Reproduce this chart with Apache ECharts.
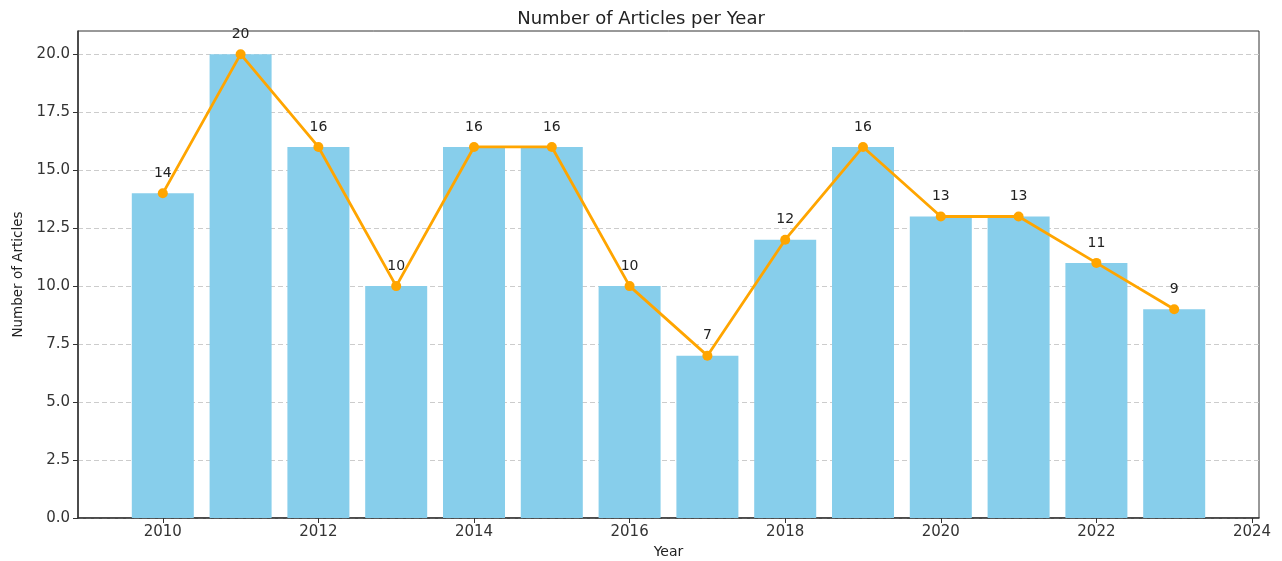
<!DOCTYPE html>
<html>
<head>
<meta charset="utf-8">
<script src="https://cdn.jsdelivr.net/npm/echarts@6/dist/echarts.min.js"></script>
<style>
  html, body { margin: 0; padding: 0; background: #fff; }
  #chart { width: 1282px; height: 561px; }
</style>
</head>
<body>
<div id="chart"></div>
<script>
// data
const years = [2010, 2011, 2012, 2013, 2014, 2015, 2016, 2017, 2018, 2019, 2020, 2021, 2022, 2023];
const articles = [14, 20, 16, 10, 16, 16, 10, 7, 12, 16, 13, 13, 11, 9];
const xTicks = [2010, 2012, 2014, 2016, 2018, 2020, 2022, 2024];
const yTicks = [0, 2.5, 5, 7.5, 10, 12.5, 15, 17.5, 20];

const font = "DejaVu Sans";
const points = years.map((y, i) => [y, articles[i]]);

const chart = echarts.init(document.getElementById("chart"));
chart.setOption({
  animation: false,
  title: {
    text: "Number of Articles per Year",
    left: "center",
    top: 5,
    textStyle: { fontFamily: font, fontSize: 18, fontWeight: "normal", color: "#222" },
  },
  grid: {
    left: 78, right: 23, top: 31, bottom: 43,
    outerBoundsMode: "none",
    show: true, borderColor: "#333", borderWidth: 1, backgroundColor: "transparent",
  },
  xAxis: {
    type: "value",
    min: 2008.91,
    max: 2024.09,
    name: "Year",
    nameLocation: "middle",
    nameGap: 27,
    nameTextStyle: { fontFamily: font, fontSize: 14, color: "#222" },
    axisLine: { show: true, lineStyle: { color: "#333", width: 1.5 } },
    axisTick: { show: true, length: 5, lineStyle: { color: "#333" }, customValues: xTicks },
    axisLabel: { fontFamily: font, fontSize: 15, color: "#333", margin: 7, customValues: xTicks,
      formatter: v => String(v) },
    splitLine: { show: false },
  },
  yAxis: {
    type: "value",
    min: 0,
    max: 21,
    interval: 2.5,
    name: "Number of Articles",
    nameLocation: "middle",
    nameGap: 52,
    nameTextStyle: { fontFamily: font, fontSize: 13.5, color: "#222" },
    axisLine: { show: true, lineStyle: { color: "#333", width: 1.5 } },
    axisTick: { show: true, length: 5, lineStyle: { color: "#333" }, customValues: yTicks },
    axisLabel: { fontFamily: font, fontSize: 15, color: "#333", margin: 8, customValues: yTicks,
      formatter: v => v.toFixed(1) },
    splitLine: { show: true, lineStyle: { color: "#ccc", type: [5, 3], width: 1 } },
  },
  series: [
    {
      type: "bar",
      data: points,
      barWidth: 62,
      itemStyle: { color: "#87CEEB" },
      z: 2,
    },
    {
      type: "line",
      data: points,
      symbol: "circle",
      symbolSize: 10,
      itemStyle: { color: "#FFA500" },
      lineStyle: { color: "#FFA500", width: 2.8 },
      label: {
        show: true,
        position: "top",
        distance: 8,
        fontFamily: font,
        fontSize: 14,
        color: "#222",
        formatter: p => String(p.value[1]),
      },
      z: 3,
    },
  ],
});
</script>
</body>
</html>
